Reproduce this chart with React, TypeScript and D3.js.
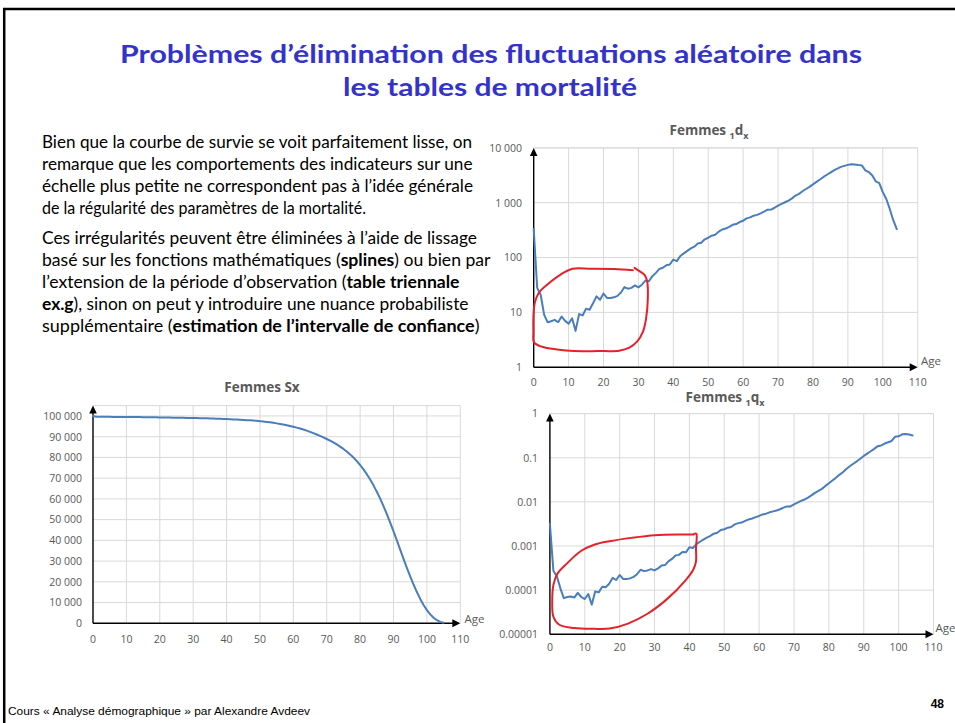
import React from "react";
import * as d3 from "d3";

// ---------- DATA ----------
const X_TICKS = [0, 10, 20, 30, 40, 50, 60, 70, 80, 90, 100, 110];

// Survivors Sx, ages 0..105
const SX_VALUES = [
  100000, 99670, 99635, 99610, 99590, 99572, 99556, 99541, 99527, 99513,
  99500, 99490, 99478, 99464, 99448, 99430, 99410, 99388, 99362, 99332,
  99300, 99275, 99248, 99220, 99191, 99161, 99131, 99100, 99068, 99035,
  99000, 98965, 98927, 98887, 98842, 98794, 98742, 98687, 98629, 98567,
  98500, 98430, 98355, 98275, 98185, 98090, 97990, 97880, 97765, 97640,
  97510, 97330, 97135, 96920, 96685, 96430, 96155, 95855, 95530, 95180,
  94800, 94380, 93930, 93440, 92910, 92340, 91730, 91080, 90390, 89660,
  88900, 88100, 87230, 86280, 85240, 84100, 82850, 81470, 79940, 78240,
  76350, 74250, 71920, 69350, 66530, 63450, 60110, 56510, 52660, 48590,
  44340, 39960, 35520, 31100, 26780, 22630, 18710, 15070, 11770, 8850,
  6350, 4300, 2700, 1500, 700, 250,
];

// Deaths 1dx, ages 0..104
const DX_VALUES = [
  330, 28, 21, 9, 6.6, 6.9, 7.3, 6.6, 8.4, 7,
  6.2, 7.8, 4.6, 9.3, 8.8, 11.6, 11.2, 14.7, 19.6, 17,
  22, 18.3, 18.3, 18.8, 20, 23, 29, 27, 28, 31,
  28.6, 32, 38, 37, 45.7, 52.6, 62, 65, 72.6, 75,
  92, 86, 107, 119, 132, 147, 158, 180, 186, 215,
  230, 250, 260, 297, 325, 338, 364, 396, 408, 444,
  470, 519, 540, 580, 600, 640, 686, 747, 750, 810,
  885, 950, 1020, 1090, 1200, 1350, 1450, 1620, 1780, 1950,
  2160, 2400, 2650, 2950, 3240, 3550, 3900, 4200, 4500, 4700,
  4900, 5050, 5000, 4880, 4800, 3900, 3630, 3140, 2450, 2280,
  1560, 1170, 770, 480, 330,
];

// Probabilities 1qx, ages 0..104
const QX_VALUES = [
  0.0032, 0.000275, 0.000205, 0.00011, 0.000066, 0.00007, 0.000072, 0.000068, 0.000087, 0.00007,
  0.000063, 0.000082, 0.000047, 0.000094, 0.000089, 0.00012, 0.000116, 0.00014, 0.00019, 0.00017,
  0.00022, 0.00018, 0.00018, 0.000185, 0.0002, 0.00023, 0.00029, 0.00027, 0.00028, 0.0003,
  0.00028, 0.00031, 0.00036, 0.00037, 0.00045, 0.00051, 0.00061, 0.00063, 0.00073, 0.00072,
  0.00094, 0.0009, 0.0011, 0.00125, 0.0014, 0.00155, 0.0017, 0.0019, 0.002, 0.0023,
  0.0024, 0.0026, 0.0027, 0.0031, 0.0033, 0.0034, 0.0037, 0.004, 0.0042, 0.0045,
  0.0048, 0.0052, 0.0054, 0.0058, 0.0061, 0.0064, 0.0068, 0.0074, 0.0079, 0.0079,
  0.0088, 0.0096, 0.0105, 0.0113, 0.0125, 0.014, 0.016, 0.0177, 0.0197, 0.023,
  0.0265, 0.0305, 0.035, 0.041, 0.047, 0.0555, 0.064, 0.073, 0.083, 0.095,
  0.11, 0.124, 0.14, 0.159, 0.183, 0.19, 0.21, 0.225, 0.24, 0.3,
  0.305, 0.34, 0.345, 0.335, 0.32,
];

const SX_TICKS = [0, 10000, 20000, 30000, 40000, 50000, 60000, 70000, 80000, 90000, 100000];
const SX_TICK_LABELS = ["0", "10 000", "20 000", "30 000", "40 000", "50 000", "60 000", "70 000", "80 000", "90 000", "100 000"];
const DX_TICKS = [1, 10, 100, 1000, 10000];
const DX_TICK_LABELS = ["1", "10", "100", "1 000", "10 000"];
const QX_TICKS = [0.00001, 0.0001, 0.001, 0.01, 0.1, 1];
const QX_TICK_LABELS = ["0.00001", "0.0001", "0.001", "0.01", "0.1", "1"];

// Hand-drawn red annotation loops (age, value)
const DX_LOOP: [number, number][] = [
  [28.4, 58.8], [23.1, 61.7], [16.4, 62.6], [11.1, 62.6], [7.7, 49], [3.85, 32],
  [1.44, 22.6], [0.29, 14.8], [-0.1, 7.8], [-0.1, 4.5], [0.1, 2.84], [2.4, 2.36],
  [6.7, 2.11], [11.5, 1.97], [18.3, 1.97], [24.5, 2.0], [27.4, 2.27], [29.6, 2.92],
  [31.3, 4.47], [32.2, 7.8], [32.7, 18.3], [32.5, 36.9], [31.8, 47.6], [30.3, 56.5], [28.9, 65],
];
const QX_LOOP: [number, number][] = [
  [41.2, 0.00183], [37.8, 0.00183], [30.1, 0.00176], [23.3, 0.00153], [17.5, 0.0013],
  [12.7, 0.00107], [8.9, 0.00077], [5.0, 0.00041], [2.1, 0.000233], [1.0, 0.000131],
  [0.67, 0.000055], [1.0, 0.000025], [2.6, 0.0000167], [6.9, 0.0000139], [12.7, 0.0000133],
  [17.1, 0.0000135], [22.4, 0.0000175], [28.1, 0.0000296], [33.9, 0.000066], [38.7, 0.00016],
  [41.1, 0.00029], [41.9, 0.00045], [41.9, 0.00091], [42.1, 0.0015], [42.0, 0.0019], [41.3, 0.00188],
];

const TITLE_LINES = [
  "Problèmes d’élimination des fluctuations aléatoire dans",
  "les tables de mortalité",
];

const PARAGRAPH: [string, boolean][][] = [
  [["Bien que la courbe de survie se voit parfaitement lisse, on", false]],
  [["remarque que les comportements des indicateurs sur une", false]],
  [["échelle plus petite ne correspondent pas à l’idée générale", false]],
  [["de la régularité des paramètres de la mortalité.", false]],
  [["Ces irrégularités peuvent être éliminées à l’aide de lissage", false]],
  [["basé sur les fonctions mathématiques (", false], ["splines", true], [") ou bien par", false]],
  [["l’extension de la période d’observation (", false], ["table triennale", true]],
  [["ex.g", true], ["), sinon on peut y introduire une nuance probabiliste", false]],
  [["supplémentaire (", false], ["estimation de l’intervalle de confiance", true], [")", false]],
];

const FOOTER = "Cours « Analyse démographique » par Alexandre Avdeev";
const PAGE_NUMBER = "48";

// ---------- LAYOUT ----------
const PARA_X = 42;
const PARA_BASELINES = [148, 170, 192, 214, 244, 266, 288, 309.5, 331.5];
const PARA_WIDTHS = [430, 430.5, 431, 324, 435, 448.5, 417.5, 426.5, 437.5];

const GRID = "#d9d9d9";
const LABEL = "#595959";
const BLUE = "#4a7ebb";
const RED = "#e3222b";
const TICK_FONT = "'Open Sans', sans-serif";

type PanelProps = {
  left: number; right: number; top: number; bottom: number;
  log: boolean;
  yDomain: [number, number];
  values: number[];
  yTicks: number[];
  yLabels: string[];
  title: React.ReactNode;
  titleX: number; titleY: number;
  yLabelRight: number;
  xLabelY: number;
  ageX: number; ageY: number;
  loop?: [number, number][];
};

function Panel(p: PanelProps) {
  const x = d3.scaleLinear().domain([0, 110]).range([p.left, p.right]);
  const y = p.log
    ? d3.scaleLog().domain(p.yDomain).range([p.bottom, p.top])
    : d3.scaleLinear().domain(p.yDomain).range([p.bottom, p.top]);
  const line = d3.line<number>().x((_, i) => x(i)).y((d) => y(d));
  const loopLine = d3
    .line<[number, number]>()
    .x((d) => x(d[0]))
    .y((d) => y(d[1]))
    .curve(d3.curveCatmullRom.alpha(0.5));
  const yTop = y(p.yDomain[1]);
  const y0 = y(p.yDomain[0]);
  const x0 = x(0);
  const x1 = x(110);
  return (
    <g>
      {X_TICKS.filter((t) => t > 0).map((t) => (
        <line key={"v" + t} x1={x(t)} x2={x(t)} y1={yTop} y2={y0} stroke={GRID} strokeWidth={1} />
      ))}
      {p.yTicks.filter((t) => t !== p.yDomain[0]).map((t) => (
        <line key={"h" + t} x1={x0} x2={x1} y1={y(t)} y2={y(t)} stroke={GRID} strokeWidth={1} />
      ))}
      <line x1={x0} x2={x1} y1={yTop} y2={yTop} stroke={GRID} strokeWidth={1} />
      <line x1={x0} x2={x1 - 6} y1={y0} y2={y0} stroke="#000" strokeWidth={1.4} />
      <line x1={x0} x2={x0} y1={y0} y2={yTop + 6} stroke="#000" strokeWidth={1.4} />
      <path d={`M${x1},${y0} L${x1 - 8},${y0 - 4} L${x1 - 8},${y0 + 4} Z`} fill="#000" />
      <path d={`M${x0},${yTop} L${x0 - 3.8},${yTop + 8} L${x0 + 3.8},${yTop + 8} Z`} fill="#000" />
      {p.yTicks.map((t, i) => (
        <text key={"yl" + t} x={p.yLabelRight} y={y(t) + 3.8} textAnchor="end" fontFamily={TICK_FONT} fontSize={10.5} fill={LABEL}>
          {p.yLabels[i]}
        </text>
      ))}
      {X_TICKS.map((t) => (
        <text key={"xl" + t} x={x(t)} y={p.xLabelY} textAnchor="middle" fontFamily={TICK_FONT} fontSize={10.5} fill={LABEL}>
          {t}
        </text>
      ))}
      <text x={p.ageX} y={p.ageY} fontFamily={TICK_FONT} fontSize={11.5} fill={LABEL}>Age</text>
      <text x={p.titleX} y={p.titleY} textAnchor="middle" fontFamily={TICK_FONT} fontWeight="bold" fontSize={13.5} fill={LABEL}>
        {p.title}
      </text>
      <path d={line(p.values) || ""} fill="none" stroke={BLUE} strokeWidth={2} strokeLinejoin="round" strokeLinecap="round" />
      {p.loop && (
        <path d={loopLine(p.loop) || ""} fill="none" stroke={RED} strokeWidth={2} strokeLinejoin="round" strokeLinecap="round" />
      )}
    </g>
  );
}

export default function App() {
  return (
    <>
      <style>{`body{margin:0;background:#fff}`}</style>
      <svg width={955} height={723} style={{ display: "block" }} xmlns="http://www.w3.org/2000/svg">
        <rect x={0} y={0} width={955} height={723} fill="#fff" />
        <line x1={3} x2={960} y1={9} y2={9} stroke="#000" strokeWidth={2.5} />
        <line x1={4.2} x2={4.2} y1={8} y2={730} stroke="#000" strokeWidth={2.5} />

        <text x={491} y={63} textAnchor="middle" fontFamily="Lato, sans-serif" fontWeight="bold" fontSize={25.5}
          fill="#3333cc" textLength={742} lengthAdjust="spacingAndGlyphs">{TITLE_LINES[0]}</text>
        <text x={490} y={95.5} textAnchor="middle" fontFamily="Lato, sans-serif" fontWeight="bold" fontSize={25.5}
          fill="#3333cc" textLength={294} lengthAdjust="spacingAndGlyphs">{TITLE_LINES[1]}</text>

        {PARAGRAPH.map((segs, i) => (
          <text key={i} x={PARA_X} y={PARA_BASELINES[i]} fontFamily="Lato, sans-serif" fontSize={16.5} fill="#000"
            textLength={PARA_WIDTHS[i]} lengthAdjust="spacingAndGlyphs">
            {segs.map(([t, b], j) => (
              <tspan key={j} fontWeight={b ? "bold" : "normal"}>{t}</tspan>
            ))}
          </text>
        ))}

        <Panel
          left={93} right={460.3} top={405.6} bottom={623.3}
          log={false} yDomain={[0, 105000]} values={SX_VALUES}
          yTicks={SX_TICKS} yLabels={SX_TICK_LABELS}
          title={"Femmes Sx"} titleX={262} titleY={392}
          yLabelRight={82} xLabelY={643} ageX={464.5} ageY={622.5}
        />
        <Panel
          left={533.7} right={917.7} top={147.9} bottom={367.2}
          log={true} yDomain={[1, 10000]} values={DX_VALUES}
          yTicks={DX_TICKS} yLabels={DX_TICK_LABELS}
          title={<>Femmes <tspan fontSize={9} dy={4}>1</tspan><tspan dy={-4}>d</tspan><tspan fontSize={9} dy={4}>x</tspan></>}
          titleX={709} titleY={134.5}
          yLabelRight={522} xLabelY={385.5} ageX={921} ageY={364.5}
          loop={DX_LOOP}
        />
        <Panel
          left={549.9} right={933.5} top={413.6} bottom={634.3}
          log={true} yDomain={[0.00001, 1]} values={QX_VALUES}
          yTicks={QX_TICKS} yLabels={QX_TICK_LABELS}
          title={<>Femmes <tspan fontSize={9} dy={4}>1</tspan><tspan dy={-4}>q</tspan><tspan fontSize={9} dy={4}>x</tspan></>}
          titleX={725} titleY={401.5}
          yLabelRight={538} xLabelY={651} ageX={935.5} ageY={631.5}
          loop={QX_LOOP}
        />

        <text x={8} y={715} fontFamily="'Liberation Sans', sans-serif" fontSize={11.5} fill="#000"
          textLength={302} lengthAdjust="spacingAndGlyphs">{FOOTER}</text>
        <text x={944} y={708} textAnchor="end" fontFamily="'Liberation Sans', sans-serif" fontWeight="bold" fontSize={12} fill="#000">{PAGE_NUMBER}</text>
      </svg>
    </>
  );
}
